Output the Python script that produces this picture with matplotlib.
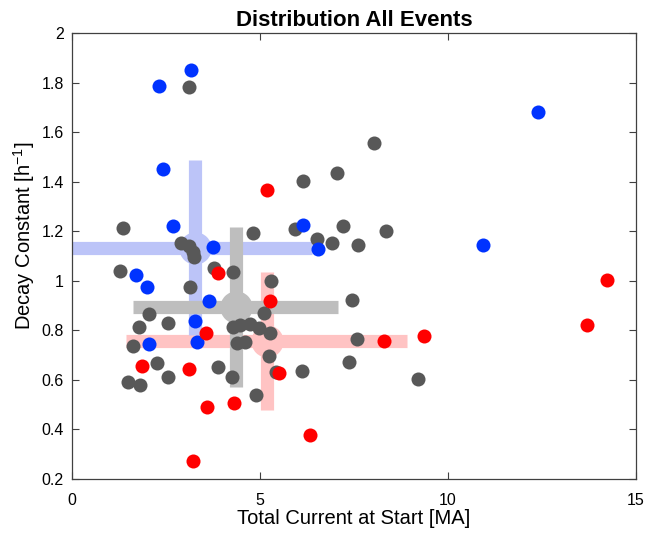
import numpy as np
import matplotlib
matplotlib.use('Agg')
import matplotlib.pyplot as plt

plt.rcParams['font.family'] = ['Liberation Sans', 'DejaVu Sans']

# event points: total current at start [MA], decay constant [1/h]
blue_x = [2.32, 3.16, 2.42, 2.69, 3.74, 6.14, 6.54, 12.40, 10.94, 1.70, 1.99, 3.65, 3.28, 2.05, 3.33]
blue_y = [1.786, 1.851, 1.452, 1.221, 1.136, 1.224, 1.127, 1.682, 1.145, 1.023, 0.976, 0.917, 0.837, 0.745, 0.754]

red_x = [5.18, 3.89, 5.27, 3.56, 1.85, 3.12, 5.50, 3.59, 4.32, 6.32, 3.21, 8.29, 9.35, 13.70, 14.22]
red_y = [1.365, 1.033, 0.920, 0.791, 0.656, 0.643, 0.627, 0.491, 0.506, 0.379, 0.274, 0.757, 0.778, 0.822, 1.003]

gray_x = [3.10, 6.15, 7.04, 8.03, 1.36, 4.81, 5.92, 7.22, 8.34, 6.51, 6.91, 7.61,
          2.89, 3.11, 3.22, 3.24, 3.78, 4.27, 1.28, 3.14, 5.30, 5.11, 2.05, 2.56,
          1.79, 1.62, 2.27, 2.55, 1.49, 1.82, 3.89, 4.25, 4.89, 6.13, 5.25, 5.42,
          5.27, 4.29, 4.47, 4.73, 4.96, 4.38, 4.60, 7.57, 7.38, 9.21, 7.44]
gray_y = [1.783, 1.402, 1.436, 1.557, 1.214, 1.193, 1.210, 1.222, 1.201, 1.167, 1.154, 1.144,
          1.154, 1.140, 1.116, 1.097, 1.050, 1.037, 1.041, 0.976, 0.999, 0.871, 0.868, 0.830,
          0.815, 0.737, 0.668, 0.612, 0.590, 0.579, 0.651, 0.613, 0.539, 0.637, 0.697, 0.631,
          0.789, 0.815, 0.822, 0.824, 0.810, 0.748, 0.754, 0.764, 0.674, 0.604, 0.922]

# group summaries: centre and extent of the cross bars
# order: red, blue, gray
cen_x = [5.18, 3.28, 4.35]
cen_y = [0.757, 1.134, 0.894]
bar_xlo = [1.44, 0.0, 1.61]
bar_xhi = [8.92, 6.37, 7.08]
bar_ylo = [0.479, 0.781, 0.570]
bar_yhi = [1.034, 1.487, 1.218]
bar_colors = ['#FFC3C3', '#BCC4F8', '#BEBEBE']

fig = plt.figure(figsize=(6.46, 5.33), dpi=100)
ax = fig.add_axes([0.1115, 0.1013, 0.873, 0.8367])

for i in range(3):
    ax.plot([bar_xlo[i], bar_xhi[i]], [cen_y[i], cen_y[i]], color=bar_colors[i],
            lw=9.5, solid_capstyle='butt', zorder=1)
    ax.plot([cen_x[i], cen_x[i]], [bar_ylo[i], bar_yhi[i]], color=bar_colors[i],
            lw=9.5, solid_capstyle='butt', zorder=1)
    ax.scatter([cen_x[i]], [cen_y[i]], s=540, color=bar_colors[i], linewidths=0, zorder=1)

ax.scatter(gray_x, gray_y, s=102, color='#585858', linewidths=0, zorder=3)
ax.scatter(blue_x, blue_y, s=102, color='#0033FF', linewidths=0, zorder=4)
ax.scatter(red_x, red_y, s=102, color='#FF0000', linewidths=0, zorder=4)

ax.set_xlim(0, 15)
ax.set_ylim(0.2, 2)
ax.set_xticks([0, 5, 10, 15])
ax.set_yticks(np.arange(0.2, 2.01, 0.2))
ax.set_yticklabels(['0.2', '0.4', '0.6', '0.8', '1', '1.2', '1.4', '1.6', '1.8', '2'])
ax.tick_params(direction='in', top=True, right=True, length=5, labelsize=11.5,
               color='#404040', width=0.8)
ax.tick_params(axis='x', pad=10)
ax.tick_params(axis='y', pad=6)
for s in ax.spines.values():
    s.set_color('#404040')
    s.set_linewidth(0.9)

ax.set_xlabel('Total Current at Start [MA]', fontsize=14.5, labelpad=1)
ax.set_ylabel(r'Decay Constant [h$^{\mathregular{-1}}$]', fontsize=14.5)
ax.yaxis.set_label_coords(-0.062, 0.546)
ax.set_title('Distribution All Events', fontsize=16, fontweight='bold', pad=5)

fig.savefig('out.png', dpi=100)
